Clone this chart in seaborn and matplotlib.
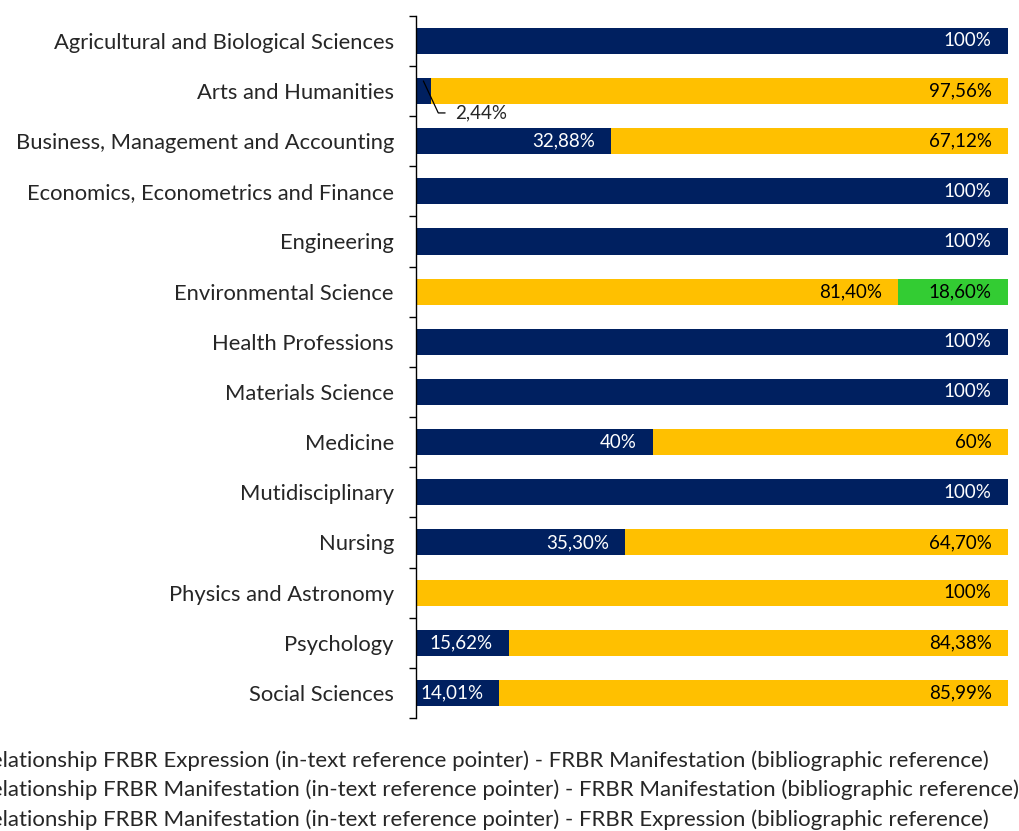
import numpy as np
import pandas as pd
import seaborn as sns
import matplotlib.pyplot as plt

categories = ['Agricultural and Biological Sciences', 'Arts and Humanities',
              'Business, Management and Accounting', 'Economics, Econometrics and Finance',
              'Engineering', 'Environmental Science', 'Health Professions',
              'Materials Science', 'Medicine', 'Mutidisciplinary', 'Nursing',
              'Physics and Astronomy', 'Psychology', 'Social Sciences']
expr_manif = [100, 2.44, 32.88, 100, 100, 0, 100, 100, 40, 100, 35.30, 0, 15.62, 14.01]
manif_manif = [0, 97.56, 67.12, 0, 0, 81.40, 0, 0, 60, 0, 64.70, 100, 84.38, 85.99]
manif_expr = [0, 0, 0, 0, 0, 18.60, 0, 0, 0, 0, 0, 0, 0, 0]
series_names = ['Relationship FRBR Expression (in-text reference pointer) - FRBR Manifestation (bibliographic reference)',
                'Relationship FRBR Manifestation (in-text reference pointer) - FRBR Manifestation (bibliographic reference)',
                'Relationship FRBR Manifestation (in-text reference pointer) - FRBR Expression (bibliographic reference)']
colors = ['#002060', '#FFC000', '#33CC33']

data = pd.DataFrame({'Category': categories, 's1': expr_manif, 's2': manif_manif, 's3': manif_expr})
data['c1'] = data['s1']
data['c2'] = data['s1'] + data['s2']
data['c3'] = data['c2'] + data['s3']

sns.set_style('white')
plt.rcParams['font.family'] = ['Lato', 'DejaVu Sans']

fig = plt.figure(figsize=(10.2, 8.31), dpi=100)
ax = fig.add_axes([0.408, 0.136, 0.58, 0.845])

# stacked bars drawn back to front
sns.barplot(data=data, y='Category', x='c3', color=colors[2], width=0.52, linewidth=0,
            saturation=1, label=series_names[2], ax=ax)
sns.barplot(data=data, y='Category', x='c2', color=colors[1], width=0.52, linewidth=0,
            saturation=1, label=series_names[1], ax=ax)
sns.barplot(data=data, y='Category', x='c1', color=colors[0], width=0.52, linewidth=0,
            saturation=1, label=series_names[0], ax=ax)

def fmt(v):
    if float(v).is_integer():
        return '%d%%' % v
    return ('%.2f%%' % v).replace('.', ',')

for i, row in data.iterrows():
    ends = [row['c1'], row['c2'], row['c3']]
    vals = [row['s1'], row['s2'], row['s3']]
    tcol = ['white', 'black', 'black']
    for k in range(3):
        if vals[k] <= 0:
            continue
        if vals[k] < 5:
            ax.annotate(fmt(vals[k]), xy=(ends[k] / 2, i - 0.2), xytext=(23, -23),
                        textcoords='offset points', ha='left', va='center', fontsize=13.5,
                        arrowprops=dict(arrowstyle='-', color='black', lw=0.9,
                                        connectionstyle='angle,angleA=0,angleB=115,rad=0',
                                        shrinkA=5, shrinkB=0))
            continue
        ax.annotate(fmt(vals[k]), xy=(ends[k], i), xytext=(-11.5, 0),
                    textcoords='offset points', ha='right', va='center',
                    fontsize=13.5, color=tcol[k])

ax.set_xlim(0, 100)
ax.set_ylim(len(categories) - 0.5, -0.5)
ax.set_xlabel('')
ax.set_ylabel('')
ax.set_xticks([])
ax.tick_params(axis='y', which='major', left=False, length=0, labelsize=15.8, pad=16)
ax.set_yticks(np.arange(len(categories) + 1) - 0.5, minor=True)
ax.tick_params(axis='y', which='minor', left=True, length=5, direction='out', color='black', width=1)
for s in ['top', 'right', 'bottom']:
    ax.spines[s].set_visible(False)
ax.spines['left'].set_color('black')
ax.spines['left'].set_linewidth(1)

h, l = ax.get_legend_handles_labels()
ax.legend(h[::-1], l[::-1], loc='upper left', bbox_to_anchor=(-0.049, 0.0975),
          bbox_transform=fig.transFigure, frameon=False, fontsize=16,
          borderpad=0, borderaxespad=0, handlelength=0.7, handletextpad=0.5,
          labelspacing=0.42)

fig.savefig('out.png', dpi=100)
